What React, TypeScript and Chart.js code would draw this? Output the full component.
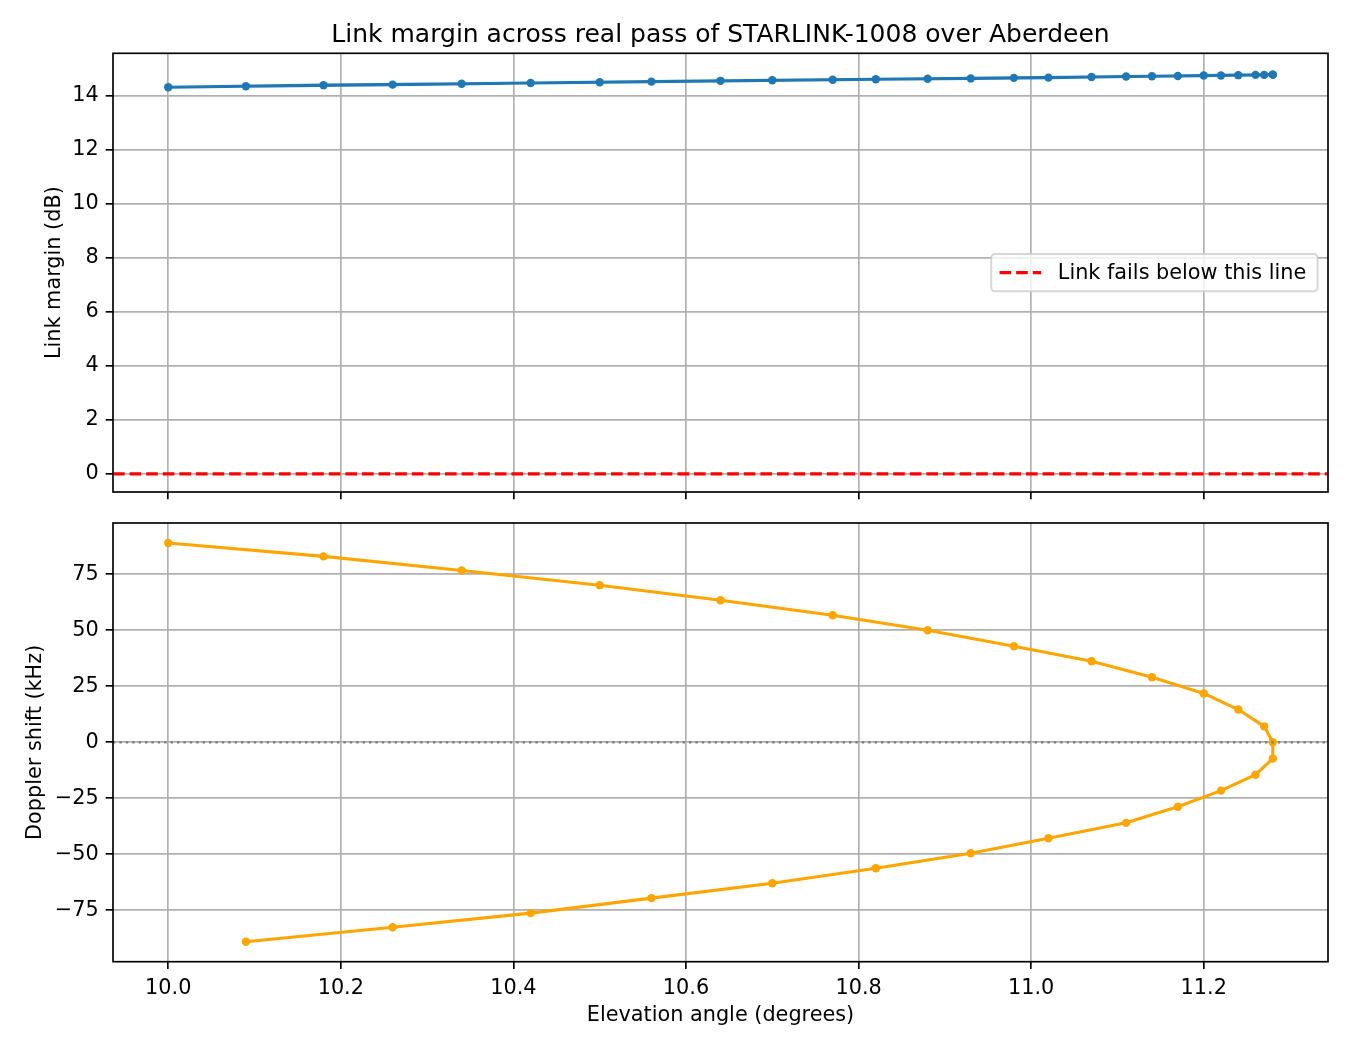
import { useEffect, useRef } from 'react'
import { Chart, LineController, LineElement, PointElement, LinearScale } from 'chart.js'

Chart.register(LineController, LineElement, PointElement, LinearScale)

// pass samples in time order: elevation climbs to ~11.28 deg then falls back
const ELEVATION = [
  10.0, 10.18, 10.34, 10.5, 10.64, 10.77, 10.88, 10.98, 11.07, 11.14, 11.2, 11.24, 11.27, 11.28,
  11.28, 11.26, 11.22, 11.17, 11.11, 11.02, 10.93, 10.82, 10.7, 10.56, 10.42, 10.26, 10.09,
]
const LINK_MARGIN = [
  14.32, 14.4, 14.45, 14.51, 14.56, 14.6, 14.64, 14.67, 14.7, 14.73, 14.76, 14.77, 14.78, 14.79,
  14.79, 14.78, 14.76, 14.74, 14.72, 14.68, 14.65, 14.62, 14.58, 14.53, 14.48, 14.42, 14.36,
]
const DOPPLER = [
  89.0, 83.0, 76.7, 70.1, 63.4, 56.7, 50.0, 42.9, 36.2, 29.0, 21.8, 14.6, 7.1, 0.0,
  -7.3, -14.5, -21.6, -28.8, -36.0, -42.9, -49.6, -56.3, -63.0, -69.6, -76.3, -82.6, -89.1,
]
const X_TICKS = [10.0, 10.2, 10.4, 10.6, 10.8, 11.0, 11.2]
const MARGIN_TICKS = [0, 2, 4, 6, 8, 10, 12, 14]
const DOPPLER_TICKS = [-75, -50, -25, 0, 25, 50, 75]
const MARGIN_LIMITS = [-0.67, 15.58]
const FAIL_LEVEL = 0

const TITLE = 'Link margin across real pass of STARLINK-1008 over Aberdeen'
const LEGEND_LABEL = 'Link fails below this line'

const FAMILY = '"DejaVu Sans", sans-serif'
const FS = 20.8 // 10pt @ 150dpi
const GRID = '#b0b0b0'
const BLUE = '#1f77b4'
const ORANGE = '#ffa500'

// matplotlib-style 5% margins
function padded(values: number[]): [number, number] {
  const lo = Math.min(...values)
  const hi = Math.max(...values)
  const m = (hi - lo) * 0.05
  return [lo - m, hi + m]
}

const [X_MIN, X_MAX] = padded(ELEVATION)
const [D_MIN, D_MAX] = padded(DOPPLER)

const gridOpts = {
  color: GRID,
  lineWidth: 1.67,
  drawTicks: true,
  tickLength: 7.3,
  tickColor: '#000',
  tickWidth: 1.67,
}

function xAxis(showLabels: boolean, height: number) {
  return {
    type: 'linear',
    min: X_MIN,
    max: X_MAX,
    afterBuildTicks: (s: any) => { s.ticks = X_TICKS.map((value) => ({ value })) },
    afterFit: (s: any) => { s.height = height; s.paddingLeft = 0; s.paddingRight = 0 },
    grid: gridOpts,
    border: { display: false },
    ticks: {
      display: showLabels,
      autoSkip: false,
      maxRotation: 0,
      padding: 7,
      color: '#000',
      font: { family: FAMILY, size: FS },
      callback: (v: any) => Number(v).toFixed(1),
    },
    title: {
      display: showLabels,
      text: 'Elevation angle (degrees)',
      color: '#000',
      font: { family: FAMILY, size: FS },
      padding: { top: 0, bottom: 21.5 },
    },
  }
}

function yAxis(min: number, max: number, ticks: number[], label: string, titlePad: number) {
  return {
    type: 'linear',
    min,
    max,
    afterBuildTicks: (s: any) => { s.ticks = ticks.map((value) => ({ value })) },
    afterFit: (s: any) => { s.width = 113; s.paddingTop = 0; s.paddingBottom = 0 },
    grid: gridOpts,
    border: { display: false },
    ticks: {
      autoSkip: false,
      padding: 7,
      color: '#000',
      font: { family: FAMILY, size: FS },
      callback: (v: any) => (v < 0 ? '\u2212' + Math.abs(v) : String(v)),
    },
    title: {
      display: true,
      text: label,
      color: '#000',
      font: { family: FAMILY, size: FS },
      padding: { top: titlePad, bottom: 0 },
    },
  }
}

interface Overlay {
  hline: { color: string; width: number; dash: number[] }
  title?: boolean
  legend?: boolean
}

function overlay(o: Overlay) {
  return {
    id: 'overlay',
    afterDatasetsDraw(chart: any) {
      const { ctx, chartArea: a, scales } = chart
      const y = scales.y.getPixelForValue(FAIL_LEVEL)
      ctx.save()
      ctx.beginPath()
      ctx.rect(a.left, a.top, a.right - a.left, a.bottom - a.top)
      ctx.clip()
      ctx.strokeStyle = o.hline.color
      ctx.lineWidth = o.hline.width
      ctx.setLineDash(o.hline.dash)
      ctx.beginPath()
      ctx.moveTo(a.left, y)
      ctx.lineTo(a.right, y)
      ctx.stroke()
      ctx.restore()
    },
    afterDraw(chart: any) {
      const { ctx, chartArea: a } = chart
      ctx.save()
      // full box frame
      ctx.strokeStyle = '#000'
      ctx.lineWidth = 1.67
      ctx.strokeRect(a.left, a.top, a.right - a.left, a.bottom - a.top)

      if (o.title) {
        ctx.fillStyle = '#000'
        ctx.font = `25px ${FAMILY}`
        ctx.textAlign = 'center'
        ctx.textBaseline = 'alphabetic'
        ctx.fillText(TITLE, (a.left + a.right) / 2, a.top - 11)
      }

      if (o.legend) {
        ctx.font = `${FS}px ${FAMILY}`
        const tw = ctx.measureText(LEGEND_LABEL).width
        const w = 3.6 * FS + tw + 3
        const h = 1.8 * FS
        const right = a.right - 0.5 * FS
        const left = right - w
        const cy = (a.top + a.bottom) / 2
        const top = cy - h / 2
        ctx.beginPath()
        ctx.roundRect(left, top, w, h, 4)
        ctx.fillStyle = 'rgba(255,255,255,0.8)'
        ctx.fill()
        ctx.strokeStyle = 'rgba(204,204,204,0.8)'
        ctx.lineWidth = 2
        ctx.stroke()

        ctx.strokeStyle = 'red'
        ctx.lineWidth = 3.1
        ctx.setLineDash([11.6, 5])
        ctx.beginPath()
        ctx.moveTo(left + 0.4 * FS, cy)
        ctx.lineTo(left + 2.4 * FS, cy)
        ctx.stroke()
        ctx.setLineDash([])

        ctx.fillStyle = '#000'
        ctx.textAlign = 'left'
        ctx.textBaseline = 'alphabetic'
        ctx.fillText(LEGEND_LABEL, left + 3.2 * FS, cy + 6.8)
      }
      ctx.restore()
    },
  }
}

function lineDataset(ys: number[], color: string) {
  return {
    data: ELEVATION.map((x, i) => ({ x, y: ys[i] })),
    borderColor: color,
    backgroundColor: color,
    borderWidth: 3.1,
    borderJoinStyle: 'round',
    pointRadius: 4.2,
    pointBorderWidth: 0,
    pointBackgroundColor: color,
    tension: 0,
    fill: false,
  }
}

export default function App() {
  const topRef = useRef<HTMLCanvasElement>(null)
  const bottomRef = useRef<HTMLCanvasElement>(null)

  useEffect(() => {
    if (!topRef.current || !bottomRef.current) return

    const top = new Chart(topRef.current, {
      type: 'line',
      data: { datasets: [lineDataset(LINK_MARGIN, BLUE)] as any },
      options: {
        animation: false,
        responsive: false,
        events: [],
        layout: { padding: { top: 53.3, right: 22, left: 0, bottom: 0 }, autoPadding: false },
        scales: {
          x: xAxis(false, 15) as any,
          y: yAxis(MARGIN_LIMITS[0], MARGIN_LIMITS[1], MARGIN_TICKS, 'Link margin (dB)', 42) as any,
        },
      },
      plugins: [overlay({ hline: { color: 'red', width: 3.1, dash: [11.6, 5] }, title: true, legend: true })],
    })

    const bottom = new Chart(bottomRef.current, {
      type: 'line',
      data: { datasets: [lineDataset(DOPPLER, ORANGE)] as any },
      options: {
        animation: false,
        responsive: false,
        events: [],
        layout: { padding: { top: 16, right: 22, left: 0, bottom: 0 }, autoPadding: false },
        scales: {
          x: xAxis(true, 88.3) as any,
          y: yAxis(D_MIN, D_MAX, DOPPLER_TICKS, 'Doppler shift (kHz)', 23.5) as any,
        },
      },
      plugins: [overlay({ hline: { color: '#808080', width: 2.3, dash: [2.4, 4] } })],
    })

    return () => {
      top.destroy()
      bottom.destroy()
    }
  }, [])

  return (
    <div style={{ position: 'absolute', left: 0, top: 0, width: 1350, height: 1050, background: '#fff' }}>
      <canvas ref={topRef} width={1350} height={507} style={{ position: 'absolute', left: 0, top: 0 }} />
      <canvas ref={bottomRef} width={1350} height={543} style={{ position: 'absolute', left: 0, top: 507 }} />
    </div>
  )
}
